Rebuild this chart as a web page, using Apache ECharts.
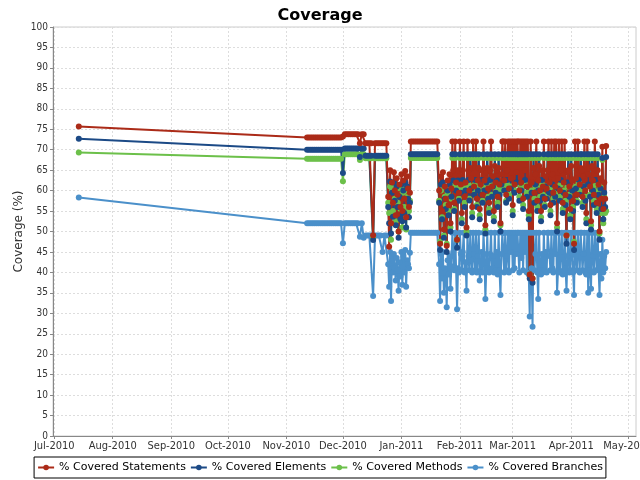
<!DOCTYPE html>
<html><head><meta charset="utf-8">
<script src="https://cdn.jsdelivr.net/npm/echarts@6/dist/echarts.min.js"></script>
<style>html,body{margin:0;padding:0;background:#fff}#c{width:640px;height:480px}</style>
</head><body><div id="c"></div>
<script>
const monthTicks = ['2010-07-01','2010-08-01','2010-09-01','2010-10-01','2010-11-01','2010-12-01','2011-01-01','2011-02-01','2011-03-01','2011-04-01','2011-05-01'];
const monthLabels = ['Jul-2010','Aug-2010','Sep-2010','Oct-2010','Nov-2010','Dec-2010','Jan-2011','Feb-2011','Mar-2011','Apr-2011','May-2011'];
const seriesNames = ['% Covered Statements','% Covered Elements','% Covered Methods','% Covered Branches'];
const seriesColors = ['#ab2b18','#1c4a86','#6cc04a','#4b90ca'];

const dates = [
'2010-07-14',
'2010-11-12','2010-11-13','2010-11-14','2010-11-15','2010-11-16','2010-11-17','2010-11-18','2010-11-19','2010-11-20','2010-11-21',
'2010-11-22','2010-11-23','2010-11-24','2010-11-25','2010-11-26','2010-11-27','2010-11-28','2010-11-29','2010-11-30',
'2010-12-01','2010-12-02','2010-12-03','2010-12-04','2010-12-05','2010-12-06','2010-12-07','2010-12-08','2010-12-09','2010-12-10',
'2010-12-11','2010-12-12','2010-12-13','2010-12-14','2010-12-15','2010-12-16','2010-12-17','2010-12-18','2010-12-19','2010-12-20',
'2010-12-21','2010-12-22','2010-12-23','2010-12-24',
'2010-12-25','2010-12-25 12:00','2010-12-26','2010-12-26 12:00','2010-12-27','2010-12-27 12:00','2010-12-28','2010-12-28 12:00',
'2010-12-29','2010-12-29 12:00','2010-12-30','2010-12-30 12:00','2010-12-31','2010-12-31 12:00','2011-01-01','2011-01-01 12:00',
'2011-01-02','2011-01-02 12:00','2011-01-03','2011-01-03 12:00','2011-01-04','2011-01-04 12:00','2011-01-05','2011-01-05 12:00',
'2011-01-06','2011-01-07','2011-01-08','2011-01-09','2011-01-10','2011-01-11','2011-01-12','2011-01-13','2011-01-14','2011-01-15',
'2011-01-16','2011-01-17','2011-01-18','2011-01-19','2011-01-20',
'2011-01-21','2011-01-21 12:00','2011-01-22','2011-01-22 12:00','2011-01-23','2011-01-23 12:00','2011-01-24','2011-01-24 12:00','2011-01-25','2011-01-25 12:00',
'2011-01-26','2011-01-26 12:00','2011-01-27','2011-01-27 12:00','2011-01-28','2011-01-28 12:00','2011-01-29','2011-01-29 12:00','2011-01-30','2011-01-30 12:00','2011-01-31','2011-01-31 12:00',
'2011-02-01','2011-02-01 12:00','2011-02-02','2011-02-02 12:00','2011-02-03','2011-02-03 12:00','2011-02-04','2011-02-04 12:00','2011-02-05','2011-02-05 12:00',
'2011-02-06','2011-02-06 12:00','2011-02-07','2011-02-07 12:00','2011-02-08','2011-02-08 12:00','2011-02-09','2011-02-09 12:00','2011-02-10','2011-02-10 12:00',
'2011-02-11','2011-02-11 12:00','2011-02-12','2011-02-12 12:00','2011-02-13','2011-02-13 12:00','2011-02-14','2011-02-14 12:00','2011-02-15','2011-02-15 12:00',
'2011-02-16','2011-02-16 12:00','2011-02-17','2011-02-17 12:00','2011-02-18','2011-02-18 12:00','2011-02-19','2011-02-19 12:00','2011-02-20','2011-02-20 12:00',
'2011-02-21','2011-02-21 12:00','2011-02-22','2011-02-22 12:00','2011-02-23','2011-02-23 12:00','2011-02-24','2011-02-24 12:00','2011-02-25','2011-02-25 12:00',
'2011-02-26','2011-02-26 12:00','2011-02-27','2011-02-27 12:00','2011-02-28','2011-02-28 12:00',
'2011-03-01','2011-03-01 12:00','2011-03-02','2011-03-02 12:00','2011-03-03','2011-03-03 12:00','2011-03-04','2011-03-04 12:00','2011-03-05','2011-03-05 12:00',
'2011-03-06','2011-03-06 12:00','2011-03-07','2011-03-07 12:00','2011-03-08','2011-03-08 12:00','2011-03-09','2011-03-09 12:00','2011-03-10','2011-03-10 12:00',
'2011-03-11','2011-03-11 12:00','2011-03-12','2011-03-12 12:00','2011-03-13','2011-03-13 12:00','2011-03-14','2011-03-14 12:00','2011-03-15','2011-03-15 12:00',
'2011-03-16','2011-03-16 12:00','2011-03-17','2011-03-17 12:00','2011-03-18','2011-03-18 12:00','2011-03-19','2011-03-19 12:00','2011-03-20','2011-03-20 12:00',
'2011-03-21','2011-03-21 12:00','2011-03-22','2011-03-22 12:00','2011-03-23','2011-03-23 12:00','2011-03-24','2011-03-24 12:00','2011-03-25','2011-03-25 12:00',
'2011-03-26','2011-03-26 12:00','2011-03-27','2011-03-27 12:00','2011-03-28','2011-03-28 12:00','2011-03-29','2011-03-29 12:00','2011-03-30','2011-03-30 12:00','2011-03-31','2011-03-31 12:00',
'2011-04-01','2011-04-01 12:00','2011-04-02','2011-04-02 12:00','2011-04-03','2011-04-03 12:00','2011-04-04','2011-04-04 12:00','2011-04-05','2011-04-05 12:00',
'2011-04-06','2011-04-06 12:00','2011-04-07','2011-04-07 12:00','2011-04-08','2011-04-08 12:00','2011-04-09','2011-04-09 12:00','2011-04-10','2011-04-10 12:00',
'2011-04-11','2011-04-11 12:00','2011-04-12','2011-04-12 12:00','2011-04-13','2011-04-13 12:00','2011-04-14','2011-04-14 12:00','2011-04-15','2011-04-15 12:00',
'2011-04-16','2011-04-16 12:00','2011-04-17','2011-04-17 12:00','2011-04-18','2011-04-18 12:00','2011-04-19','2011-04-19 12:00'
];

const statements = [
75.7,
73.0,73.0,73.0,73.0,73.0,73.0,73.0,73.0,73.0,73.0,
73.0,73.0,73.0,73.0,73.0,73.0,73.0,73.0,73.0,
73.2,73.8,73.8,73.8,73.8,73.8,73.8,73.8,73.8,71.6,
73.8,73.8,71.6,71.6,71.6,71.6,49.1,71.6,71.6,71.6,
71.6,71.6,71.6,71.6,
58.5,46.3,65.0,52.0,62.0,57.0,64.5,60.0,
54.0,63.0,59.0,50.0,61.5,56.0,64.0,55.0,
62.5,58.0,64.8,53.5,63.5,60.5,56.0,59.5,
72.0,72.0,72.0,72.0,72.0,72.0,72.0,72.0,72.0,72.0,
72.0,72.0,72.0,72.0,72.0,
60.0,47.0,63.5,55.0,64.5,50.5,61.0,58.0,46.5,62.5,
56.5,64.0,52.0,60.5,72.0,65.0,57.0,72.0,62.0,48.0,65.0,59.5,
72.0,61.5,54.5,65.0,72.0,58.5,62.0,51.0,72.0,65.0,
60.0,65.5,63.0,56.0,72.0,61.0,65.5,72.0,58.0,62.5,
65.5,55.5,61.5,65.0,59.0,72.0,62.5,51.5,64.5,65.5,
60.5,57.0,65.0,72.0,61.0,63.5,55.0,66.0,62.0,65.0,
58.5,65.5,61.5,52.0,64.0,72.0,72.0,62.5,72.0,59.0,
65.0,72.0,60.5,72.0,63.0,72.0,
56.5,72.0,61.5,72.0,64.5,72.0,72.0,60.0,72.0,62.0,
72.0,58.0,72.0,65.0,72.0,61.0,72.0,55.0,39.5,72.0,
62.0,38.5,65.5,59.5,64.0,72.0,57.5,62.5,66.0,60.0,
55.0,65.0,61.0,72.0,58.0,63.5,60.5,65.0,72.0,62.0,
56.5,72.0,64.0,59.5,72.0,61.0,72.0,52.0,63.0,72.0,
60.0,65.0,72.0,57.0,62.0,72.0,59.0,49.0,64.5,65.0,61.0,55.5,
66.0,62.5,57.5,47.0,72.0,63.0,59.0,72.0,65.0,61.5,
65.5,65.0,58.5,63.5,72.0,60.0,54.5,72.0,64.0,65.5,
61.0,52.5,66.0,62.5,59.0,72.0,65.0,57.0,65.0,61.5,
50.0,63.0,58.0,70.7,55.5,62.0,58.0,70.9
];

const elements = [
72.7,
70.0,70.0,70.0,70.0,70.0,70.0,70.0,70.0,70.0,70.0,
70.0,70.0,70.0,70.0,70.0,70.0,70.0,70.0,70.0,
64.3,70.3,70.3,70.3,70.3,70.3,70.3,70.3,70.3,68.2,
70.3,70.3,68.5,68.5,68.5,68.5,47.9,68.5,68.5,68.5,
68.5,68.5,68.5,68.5,
56.0,52.0,62.2,49.5,59.5,53.6,62.0,57.5,
51.5,61.0,56.0,48.5,58.5,53.0,61.5,52.5,
60.0,54.5,62.0,51.0,61.0,58.0,53.5,57.0,
68.9,68.9,68.9,68.9,68.9,68.9,68.9,68.9,68.9,68.9,
68.9,68.9,68.9,68.9,68.9,
57.0,45.5,61.5,53.0,62.0,48.5,58.0,55.5,45.0,60.0,
54.0,61.5,50.0,58.5,68.9,62.5,55.0,68.9,60.0,46.0,62.5,57.5,
68.9,59.5,52.0,62.6,68.9,56.0,60.0,49.0,68.9,62.6,
57.6,68.9,60.5,53.5,68.9,59.0,62.6,68.9,56.0,60.0,
68.9,53.0,59.0,62.6,57.0,68.9,60.0,49.5,62.0,68.9,
58.0,54.5,62.6,68.9,58.5,61.0,52.5,68.9,59.5,62.5,
56.0,68.9,59.0,50.0,61.5,68.9,68.9,60.0,68.9,57.0,
62.6,68.9,58.0,68.9,60.5,68.9,
54.0,68.9,59.5,68.9,62.0,68.9,68.9,57.5,68.9,60.0,
68.9,55.5,68.9,62.6,68.9,58.5,68.9,53.0,38.5,68.9,
59.5,37.5,68.9,57.0,61.5,68.9,55.0,60.0,68.9,57.5,
52.5,62.6,58.5,68.9,56.0,61.0,58.0,68.9,68.9,59.5,
54.0,68.9,61.5,57.0,68.9,58.5,68.9,50.0,60.5,68.9,
57.5,62.6,68.9,54.5,59.5,68.9,56.5,47.0,62.0,68.9,58.5,53.0,
68.9,60.0,55.0,45.5,68.9,60.5,57.0,68.9,62.6,59.0,
68.9,68.9,56.0,61.0,68.9,57.5,52.0,68.9,61.5,68.9,
58.5,50.5,68.9,60.0,56.5,68.9,62.6,54.5,68.9,59.0,
48.0,60.5,55.5,68.0,53.0,59.5,56.0,68.2
];

const methods = [
69.3,
67.8,67.8,67.8,67.8,67.8,67.8,67.8,67.8,67.8,67.8,
67.8,67.8,67.8,67.8,67.8,67.8,67.8,67.8,67.8,
62.3,68.9,68.9,68.9,68.9,68.9,68.9,68.9,68.9,67.5,
68.9,68.9,67.9,67.9,67.9,67.9,48.5,67.9,67.9,67.9,
67.9,67.9,67.9,67.9,
57.0,54.5,61.0,48.0,60.0,55.0,61.5,58.0,
52.5,60.5,57.0,50.0,59.0,55.5,60.5,51.0,
59.5,56.0,61.0,50.5,60.0,58.5,55.0,57.5,
68.0,68.0,68.0,68.0,68.0,68.0,68.0,68.0,68.0,68.0,
68.0,68.0,68.0,68.0,68.0,
57.5,47.5,60.0,53.5,61.0,49.0,58.5,56.5,47.0,59.5,
55.0,61.0,51.0,58.0,68.0,61.5,55.5,68.0,60.5,48.0,61.0,58.0,
68.0,60.5,53.0,62.0,68.0,57.0,60.5,50.0,68.0,61.5,
58.0,68.0,61.0,54.5,68.0,60.0,61.5,68.0,56.5,60.5,
68.0,54.0,59.5,62.0,57.5,68.0,60.5,50.5,61.0,68.0,
58.5,55.5,61.5,68.0,59.0,61.0,53.5,68.0,60.5,61.5,
57.0,68.0,60.0,51.5,61.0,68.0,68.0,60.5,68.0,57.5,
61.5,68.0,59.0,68.0,61.0,68.0,
55.0,68.0,60.0,68.0,61.5,68.0,68.0,58.5,68.0,60.5,
68.0,56.5,68.0,61.5,68.0,59.5,68.0,54.0,39.5,68.0,
60.0,38.5,68.0,58.0,61.0,68.0,56.0,60.5,68.0,58.5,
53.5,61.5,59.0,68.0,56.5,61.0,58.5,68.0,68.0,60.5,
55.0,68.0,61.0,58.0,68.0,59.5,68.0,51.0,61.0,68.0,
58.5,61.5,68.0,55.5,60.0,68.0,57.5,49.0,61.0,68.0,59.0,54.0,
68.0,60.5,56.0,47.5,68.0,61.0,57.5,68.0,62.0,60.0,
68.0,68.0,57.0,61.0,68.0,58.5,53.0,68.0,61.0,68.0,
59.0,51.5,68.0,60.5,57.5,68.0,61.5,55.5,68.0,60.0,
49.5,61.0,54.5,67.5,52.0,58.5,54.5,55.0
];

const branches = [
58.3,
52.0,52.0,52.0,52.0,52.0,52.0,52.0,52.0,52.0,52.0,
52.0,52.0,52.0,52.0,52.0,52.0,52.0,52.0,52.0,
47.1,52.0,52.0,52.0,52.0,52.0,52.0,52.0,52.0,48.7,
52.0,48.5,49.0,49.0,49.0,49.0,34.2,49.0,49.0,49.0,
49.0,45.0,49.0,49.0,
42.0,36.5,45.0,33.0,44.0,40.0,44.5,41.0,
38.0,43.5,40.5,35.5,42.5,39.0,45.0,37.0,
44.0,40.0,45.5,36.5,43.0,42.0,41.0,44.8,
49.7,49.7,49.7,49.7,49.7,49.7,49.7,49.7,49.7,49.7,
49.7,49.7,49.7,49.7,49.7,
42.0,33.0,44.5,38.5,45.0,35.0,41.0,40.0,31.5,43.0,
39.5,44.0,36.0,41.5,49.7,45.0,40.5,49.7,40.5,31.0,41.0,40.0,
49.7,44.5,40.5,45.0,49.7,40.0,42.5,35.5,49.7,44.0,
40.5,49.7,43.0,40.0,49.7,44.5,40.5,49.7,40.0,44.0,
49.7,38.0,40.5,45.0,40.0,49.7,44.5,33.5,41.0,49.7,
40.5,40.0,44.5,49.7,41.0,44.0,40.0,49.7,40.5,45.0,
39.5,49.7,40.5,34.5,44.5,49.7,49.7,40.0,49.7,40.5,
44.0,49.7,40.0,49.7,45.0,49.7,
40.5,49.7,41.0,49.7,44.5,49.7,49.7,40.0,49.7,43.5,
49.7,40.5,49.7,45.0,49.7,40.0,49.7,39.5,29.2,49.7,
41.0,26.7,49.7,40.5,44.5,49.7,40.0,33.5,49.7,40.5,
39.5,44.5,40.0,49.7,40.5,45.0,40.0,49.7,49.7,44.0,
40.5,49.7,41.0,40.0,49.7,44.5,49.7,35.0,40.5,49.7,
40.0,45.0,49.7,39.5,40.5,49.7,41.0,35.5,44.0,49.7,40.0,40.5,
49.7,44.5,40.0,34.5,49.7,44.0,40.5,49.7,45.0,40.0,
49.7,49.7,40.5,44.5,49.7,40.0,39.5,49.7,35.0,49.7,
40.5,36.0,49.7,44.0,40.0,49.7,45.0,40.5,49.7,41.0,
34.5,44.5,38.5,48.0,40.0,44.0,41.0,45.0
];

function ts(s) {
  const parts = s.split(' ');
  const d = parts[0].split('-').map(Number);
  let h = 0, mi = 0;
  if (parts[1]) { const t = parts[1].split(':').map(Number); h = t[0]; mi = t[1]; }
  return Date.UTC(d[0], d[1] - 1, d[2], h, mi);
}
const tickVals = monthTicks.map(ts);
const valueArrays = [statements, elements, methods, branches];

const chart = echarts.init(document.getElementById('c'), null, {renderer: 'canvas'});
const lineSeries = [], dotSeries = [];
for (let k = 3; k >= 0; k--) {
  const data = dates.map((d, i) => [ts(d), valueArrays[k][i]]);
  lineSeries.push({
    name: seriesNames[k], type: 'line', data: data, showSymbol: false, symbol: 'circle',
    lineStyle: {width: 2, color: seriesColors[k]}, itemStyle: {color: seriesColors[k]},
    z: 2, animation: false, silent: true
  });
  dotSeries.push({
    name: seriesNames[k], type: 'scatter', data: data, symbol: 'circle', symbolSize: 6,
    itemStyle: {color: seriesColors[k], opacity: 1}, z: 3, animation: false, silent: true
  });
}

const tickFont = "'DejaVu Sans Condensed', 'DejaVu Sans'";

chart.setOption({
  backgroundColor: '#fff',
  animation: false,
  textStyle: {fontFamily: 'DejaVu Sans'},
  title: {
    text: 'Coverage', left: 'center', top: 3,
    textStyle: {fontFamily: 'DejaVu Sans', fontSize: 16, fontWeight: 'bold', color: '#000'}
  },
  legend: {
    data: seriesNames, bottom: 2, left: 'center',
    borderColor: '#000', borderWidth: 1, padding: [5, 3], itemGap: 4,
    itemWidth: 16, itemHeight: 7,
    textStyle: {fontFamily: 'DejaVu Sans', fontSize: 11, color: '#000'}
  },
  grid: {left: 53, right: 4, top: 27, bottom: 44, show: true, borderColor: '#ccc', borderWidth: 1, outerBoundsMode: 'none', containLabel: false},
  xAxis: {
    type: 'value', min: ts('2010-06-30 08:00'), max: ts('2011-05-05 08:00'),
    axisLine: {show: true, lineStyle: {color: '#888'}},
    axisTick: {show: true, length: 3, lineStyle: {color: '#888'}, customValues: tickVals},
    axisLabel: {
      customValues: tickVals, fontFamily: tickFont, fontSize: 11, color: '#333', margin: 5, hideOverlap: false,
      showMinLabel: true, showMaxLabel: true,
      formatter: function (v) {
        let best = 0;
        for (let i = 0; i < tickVals.length; i++) if (Math.abs(tickVals[i] - v) < Math.abs(tickVals[best] - v)) best = i;
        return monthLabels[best];
      }
    },
    splitLine: {show: true, lineStyle: {type: [2, 2], color: '#ddd'}}
  },
  yAxis: {
    type: 'value', min: 0, max: 100, interval: 5,
    name: 'Coverage (%)', nameLocation: 'middle', nameGap: 28, nameRotate: 90, nameMoveOverlap: false,
    nameTextStyle: {fontFamily: 'DejaVu Sans', fontSize: 12, color: '#333'},
    axisLine: {show: true, lineStyle: {color: '#888'}},
    axisTick: {show: true, length: 3, lineStyle: {color: '#888'}},
    axisLabel: {fontFamily: tickFont, fontSize: 10, color: '#333', margin: 5},
    splitLine: {show: true, lineStyle: {type: [2, 2], color: '#ddd'}}
  },
  series: lineSeries.concat(dotSeries)
});
</script></body></html>
